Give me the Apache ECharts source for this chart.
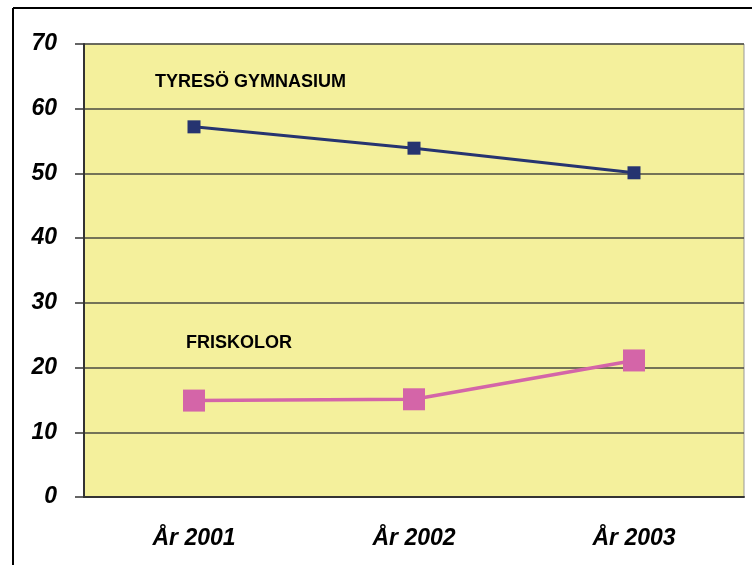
<!DOCTYPE html>
<html lang="sv">
<head>
    <meta charset="UTF-8" />
    <title>Tyresö gymnasium / friskolor</title>
    <script src="https://cdn.jsdelivr.net/npm/echarts@6/dist/echarts.min.js"></script>
    <style>
        body { margin: 0; background: #fff; }
        #chart { width: 752px; height: 565px; }
    </style>
</head>
<body>
<div id="chart"></div>
<script>
    // kategorier och värden
    const years = ['År 2001', 'År 2002', 'År 2003'];
    const tyreso = [57.2, 53.9, 50.1];
    const friskolor = [14.9, 15.1, 21.1];
    const yTicks = [0, 10, 20, 30, 40, 50, 60, 70];

    const chart = echarts.init(document.getElementById('chart'));

    const labelFont = {
        fontFamily: '"Liberation Sans", Arial, sans-serif',
        fontWeight: 'bold',
        fontStyle: 'italic',
        fontSize: 23,
        color: '#000'
    };

    const option = {
        animation: false,
        grid: { left: 84, top: 44, right: 8, bottom: 68, show: true, backgroundColor: '#F4F09C', borderColor: '#999', borderWidth: 1 },
        xAxis: {
            type: 'category',
            data: years,
            axisLine: { lineStyle: { color: '#333', width: 2 } },
            axisTick: { length: 9, lineStyle: { color: '#333', width: 1.5 } },
            axisLabel: Object.assign({ margin: 30 }, labelFont)
        },
        yAxis: {
            type: 'value',
            min: yTicks[0],
            max: yTicks[yTicks.length - 1],
            interval: 10,
            axisLine: { show: true, lineStyle: { color: '#333', width: 2 } },
            axisTick: { show: true, length: 9, lineStyle: { color: '#333', width: 1.5 } },
            axisLabel: Object.assign({ margin: 27 }, labelFont),
            splitLine: { lineStyle: { color: '#4a4a40', width: 1.5 } }
        },
        series: [
            {
                name: 'TYRESÖ GYMNASIUM',
                type: 'line',
                data: tyreso,
                symbol: 'rect',
                symbolSize: 13,
                lineStyle: { color: '#263470', width: 3 },
                itemStyle: { color: '#263470' }
            },
            {
                name: 'FRISKOLOR',
                type: 'line',
                data: friskolor,
                symbol: 'rect',
                symbolSize: 22,
                lineStyle: { color: '#D465A8', width: 3.5 },
                itemStyle: { color: '#D465A8' }
            }
        ],
        graphic: [
            { type: 'line', shape: { x1: 13, y1: 8, x2: 752, y2: 8 }, style: { stroke: '#000', lineWidth: 2 } },
            { type: 'line', shape: { x1: 13, y1: 8, x2: 13, y2: 565 }, style: { stroke: '#000', lineWidth: 2 } },
            { type: 'text', left: 155, top: 73, style: { text: 'TYRESÖ GYMNASIUM', font: 'bold 18px "Liberation Sans", Arial, sans-serif', fill: '#000' } },
            { type: 'text', left: 186, top: 334, style: { text: 'FRISKOLOR', font: 'bold 18px "Liberation Sans", Arial, sans-serif', fill: '#000' } }
        ]
    };

    chart.setOption(option);
</script>
</body>
</html>
